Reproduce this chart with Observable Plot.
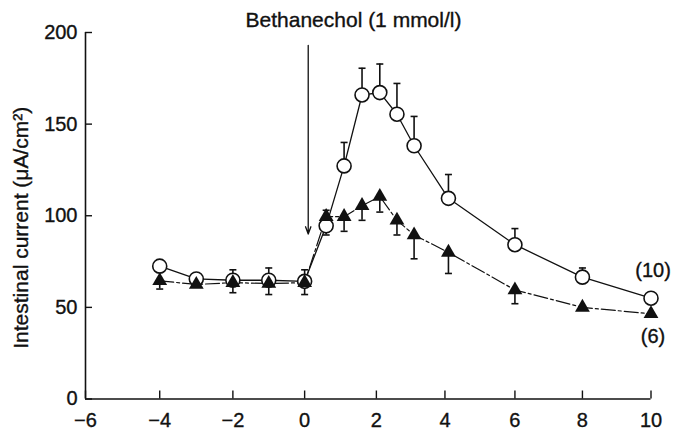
<!DOCTYPE html>
<html>
<head>
<meta charset="utf-8">
<script src="https://cdn.jsdelivr.net/npm/d3@7"></script>
<script src="https://cdn.jsdelivr.net/npm/@observablehq/plot@0.6"></script>
<style>
  body { margin: 0; background: #fff; font-family: "Liberation Sans", Arial, Helvetica, sans-serif; }
  #title { box-sizing: border-box; width: 673px; height: 32px; padding-top: 8px; padding-left: 34px;
           line-height: 23px; font-size: 21px; text-align: center; color: #111; white-space: nowrap;
           -webkit-text-stroke: 0.35px #111; }
  #chart svg text { stroke: #111; stroke-width: 0.35px; }
</style>
</head>
<body>
<div id="title">Bethanechol (1 mmol/l)</div>
<div id="chart"></div>
<script>
// Time (min) of each reading
const time = [-4, -3, -2, -1, 0, 0.6, 1.1, 1.6, 2.1, 2.6, 3.1, 4.1, 6, 8, 10];
// Open circles (n = 10): mean and end of error bar
const circleMean = [72.5, 65.5, 64.8, 64.8, 64.2, 94.5, 127.2, 165.9, 167.2, 155.4, 138.2, 109.5, 84.2, 66.5, 55];
const circleErr  = [null, null, 70.5, 71.5, 70.5, 89.5, 140, 180.5, 182.8, 172.2, 154.2, 122.5, 93, 71.5, null];
// Filled triangles (n = 6): mean and end of error bar
const triMean = [64.5, 62.5, 63.5, 63, 63.5, 99.5, 99.5, 105.5, 110.5, 97.5, 89.5, 80, 59.5, 50, 46.5];
const triErr  = [60, null, 58, 57, 57, 103, 91.5, 97.5, 102, 89.5, 76.5, 68.5, 52, null, null];

const xTicks = [-6, -4, -2, 0, 2, 4, 6, 8, 10];
const yTicks = [0, 50, 100, 150, 200];
const yLabel = "Intestinal current (μA/cm²)";

// The printed time axis is slightly uneven: where each tick sits on the page, in even units
const xTickPrinted = [-6, -3.9, -1.83, 0.2, 2.23, 4.17, 6.15, 8.06, 10];

// Bethanechol addition arrow
const arrowX = [0.1];
const arrowFrom = [193];
const arrowTo = [90];

// n labels at the end of each curve
const nLabels = ["(10)", "(6)"];
const nLabelX = [10, 10];
const nLabelY = [70, 34];

const circles = time.map((t, i) => ({t, y: circleMean[i], e: circleErr[i]}));
const tris = time.map((t, i) => ({t, y: triMean[i], e: triErr[i]}));
const circleBars = circles.filter(d => d.e != null);
const triBars = tris.filter(d => d.e != null);
const arrows = arrowX.map((x, i) => ({x, y1: arrowFrom[i], y2: arrowTo[i]}));
const nText = nLabels.map((s, i) => ({s, x: nLabelX[i], y: nLabelY[i]}));

const warp = d3.scaleLinear().domain(xTicks).range(xTickPrinted);

const capSymbol = {
  draw(ctx, size) {
    const w = Math.sqrt(size / Math.PI);
    ctx.moveTo(-w, 0);
    ctx.lineTo(w, 0);
  }
};

const font = '"Liberation Sans", Arial, Helvetica, sans-serif';

const chart = Plot.plot({
  width: 673,
  height: 401,
  marginTop: 0,
  marginBottom: 34.5,
  marginLeft: 85,
  marginRight: 22.5,
  style: {fontFamily: font, fontSize: "20px", overflow: "visible", background: "#fff", color: "#111"},
  x: {domain: [-6, 10], transform: (v) => warp(v), label: null},
  y: {domain: [0, 200], label: null},
  marks: [
    Plot.ruleX([-6], {y1: 0, y2: 200, stroke: "#111", strokeWidth: 1.6}),
    Plot.ruleY([0], {x1: -6, x2: 10, stroke: "#111", strokeWidth: 1.6}),
    Plot.axisX(xTicks, {tickSize: -8, tickPadding: 22, fontSize: 20, strokeWidth: 1.4, label: null}),
    Plot.axisY(yTicks, {tickSize: -7, tickPadding: 15, fontSize: 20, strokeWidth: 1.4, label: null}),
    Plot.text([yLabel], {frameAnchor: "left", textAnchor: "middle", rotate: -90, dx: -64.5, dy: 12, fontSize: 21, letterSpacing: "0.6px", fill: "#111"}),
    // arrow
    Plot.arrow(arrows, {x1: "x", x2: "x", y1: "y1", y2: "y2", stroke: "#111", strokeWidth: 1.3, headLength: 9, headAngle: 40}),
    // connecting lines
    Plot.line(tris, {x: "t", y: "y", stroke: "#111", strokeWidth: 1.2, strokeDasharray: "14,3,3,3"}),
    Plot.line(circles, {x: "t", y: "y", stroke: "#111", strokeWidth: 1.3}),
    // error bars
    Plot.ruleX(triBars, {x: "t", y1: "y", y2: "e", stroke: "#111", strokeWidth: 1.6}),
    Plot.dot(triBars, {x: "t", y: "e", symbol: capSymbol, r: 3.5, stroke: "#111", strokeWidth: 1.6, fill: "none"}),
    Plot.ruleX(circleBars, {x: "t", y1: "y", y2: "e", stroke: "#111", strokeWidth: 1.6}),
    Plot.dot(circleBars, {x: "t", y: "e", symbol: capSymbol, r: 3.5, stroke: "#111", strokeWidth: 1.6, fill: "none"}),
    // markers
    Plot.dot(circles, {x: "t", y: "y", r: 7, fill: "#fff", stroke: "#111", strokeWidth: 1.6}),
    Plot.dot(tris, {x: "t", y: "y", symbol: "triangle", r: 5.5, fill: "#111", stroke: "none"}),
    // n labels
    Plot.text(nText, {x: "x", y: "y", text: "s", dx: 2, fontSize: 20, fill: "#111"})
  ]
});
document.getElementById("chart").appendChild(chart);
</script>
</body>
</html>
